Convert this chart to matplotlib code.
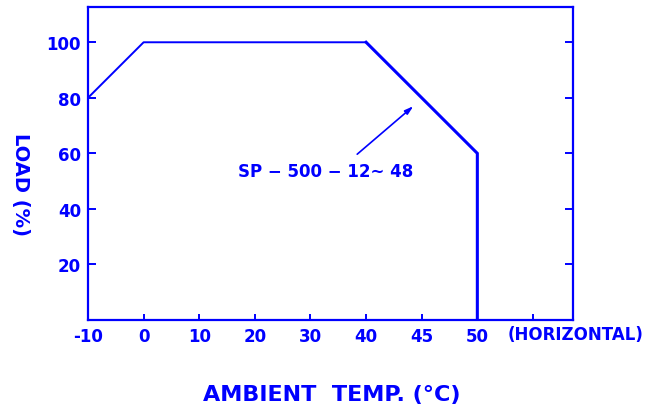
import numpy as np
import matplotlib
matplotlib.use("Agg")
from matplotlib import pyplot as plt

# derating curve data
tick_temps = [-10, 0, 10, 20, 30, 40, 45, 50, 55]
tick_labels = ['-10', '0', '10', '20', '30', '40', '45', '50', '']
curve_temp = [-10, 0, 40]
curve_load = [80, 100, 100]
derate_temp = [40, 50, 50]
derate_load = [100, 60, 0]
y_ticks = [20, 40, 60, 80, 100]

BLUE = '#0000ff'
pos = np.arange(len(tick_temps))

def xpos(t):
    # categorical-like temperature axis (45 sits between 40 and 50)
    return np.interp(t, tick_temps, pos)

fig = plt.figure(figsize=(6.53, 4.10), dpi=100)
ax = fig.add_axes([88/653, 1-321/410, (573-88)/653, (321-8)/410])

ax.plot(xpos(curve_temp), curve_load, color=BLUE, lw=1.4)
ax.plot(xpos(derate_temp), derate_load, color=BLUE, lw=2.2, solid_joinstyle='miter')

ax.set_xlim(0, 8.72)
ax.set_ylim(0, 112.7)

for s in ax.spines.values():
    s.set_color(BLUE)
    s.set_linewidth(1.6)

ax.set_xticks(pos)
ax.set_xticklabels(tick_labels)
ax.set_yticks(y_ticks)
ax.set_yticklabels([str(v) for v in y_ticks])
ax.tick_params(axis='x', direction='in', length=4.5, width=1.4, color=BLUE,
               labelcolor=BLUE, labelsize=12, pad=5)
ax.tick_params(axis='y', direction='in', length=6, width=1.4, color=BLUE,
               labelcolor=BLUE, labelsize=12, pad=5, right=True)
for lab in ax.get_xticklabels() + ax.get_yticklabels():
    lab.set_fontweight('bold')

# pointer arrow and model label
ax.annotate('', xy=(5.85, 77.0), xytext=(4.84, 59.7),
            arrowprops=dict(arrowstyle='-|>,head_length=0.5,head_width=0.15',
                            color=BLUE, lw=1.2, shrinkA=0, shrinkB=0))
ax.text(2.70, 53.8, 'SP − 500 − 12∼ 48', color=BLUE, fontsize=12,
        fontweight='bold', va='center', ha='left')

fig.text(508/653, 1-335/410, '(HORIZONTAL)', color=BLUE, fontsize=12,
         fontweight='bold', ha='left', va='center')
fig.text(332/653, 1-395/410, "AMBIENT  TEMP. (°C)", color=BLUE, fontsize=16,
         fontweight='bold', ha='center', va='center')
fig.text(20/653, 1-185/410, 'LOAD (%)', color=BLUE, fontsize=14,
         fontweight='bold', ha='center', va='center', rotation=270)

fig.savefig('out.png', dpi=100)
